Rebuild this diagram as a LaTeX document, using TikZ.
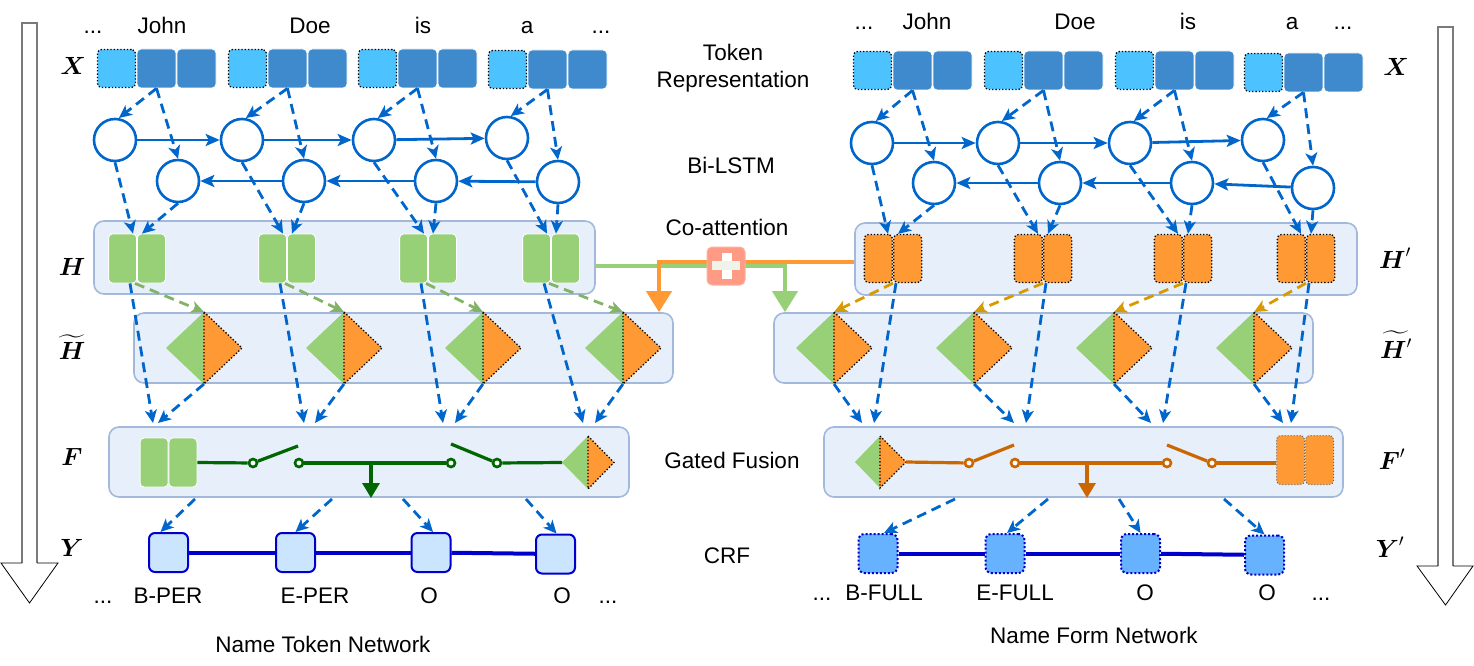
\documentclass[tikz,border=0pt]{standalone}
\usepackage{fontspec}
\setmainfont{Liberation Sans}
\usepackage{amsmath}
\usetikzlibrary{arrows.meta,calc}
\definecolor{tokL}{HTML}{4CC3FF}
\definecolor{tokD}{HTML}{3F8ACC}
\definecolor{lstm}{HTML}{0066CC}
\definecolor{panelF}{HTML}{E7EFFA}
\definecolor{panelD}{HTML}{A3B9DC}
\definecolor{gr}{HTML}{97D077}
\definecolor{grA}{HTML}{82B366}
\definecolor{orng}{HTML}{FF9933}
\definecolor{gold}{HTML}{D79B00}
\definecolor{wireG}{HTML}{006600}
\definecolor{wireO}{HTML}{CC6600}
\definecolor{crfB}{HTML}{0000CC}
\definecolor{crfL}{HTML}{CCE5FF}
\definecolor{crfR}{HTML}{66B2FF}
\definecolor{plusC}{HTML}{FF9B85}
\definecolor{plusBar}{HTML}{EEF5E8}
\definecolor{bigA}{HTML}{7A7A7A}
\tikzset{
  txt/.style={font=\fontsize{22.5}{27}\selectfont, inner sep=0pt, anchor=base},
  lbl/.style={font=\fontsize{26}{30}\selectfont, inner sep=0pt},
  tokl/.style={draw=black, dotted, line width=1.3pt, fill=tokL, rounded corners=4pt, minimum size=38pt, inner sep=0pt},
  tokd/.style={draw=white, line width=0.8pt, fill=tokD, rounded corners=4pt, minimum size=39pt, inner sep=0pt},
  cell/.style={circle, draw=lstm, line width=2.6pt, fill=white, minimum size=42pt, inner sep=0pt},
  flow/.style={draw=lstm, line width=2.8pt, -{Stealth[length=14pt,width=12pt,inset=3pt]}},
  dflow/.style={draw=lstm, line width=2.8pt, dash pattern=on 10pt off 6pt, -{Stealth[length=13pt,width=12pt,inset=3.5pt]}},
  dgreen/.style={dflow, draw=grA},
  dgold/.style={dflow, draw=gold},
  panel/.style={draw=panelD, line width=1.6pt, fill=panelF, rounded corners=10pt, inner sep=0pt},
  hg/.style={fill=gr, draw=white, line width=0.8pt, rounded corners=4pt, minimum width=28pt, minimum height=49pt, inner sep=0pt},
  ho/.style={fill=orng, draw=black, dotted, line width=1.3pt, rounded corners=4pt, minimum width=28pt, minimum height=48pt, inner sep=0pt},
  hof/.style={fill=orng, draw=black!60, dotted, line width=1pt, rounded corners=4pt, minimum width=28pt, minimum height=49pt, inner sep=0pt},
  wire/.style={line width=3.2pt},
  swc/.style={circle, fill=white, line width=2.6pt, minimum size=8pt, inner sep=0pt},
  crfl/.style={draw=crfB, line width=2pt, fill=crfL, rounded corners=6pt, minimum size=39pt, inner sep=0pt},
  crfr/.style={draw=crfB, dotted, line width=2pt, fill=crfR, rounded corners=6pt, minimum size=39pt, inner sep=0pt},
  crfline/.style={draw=crfB, line width=4pt},
  bigarr/.style={-{Triangle[length=21pt,width=25pt]}, line width=4pt},
}
\begin{document}
\begin{tikzpicture}[x=1pt,y=-1pt]
\useasboundingbox (0,0) rectangle (1474,666);

% ---------- big side arrows ----------
\draw[bigA, line width=2pt] (22,563) -- (22,23) -- (37,23) -- (37,563);
\draw[black, line width=0.8pt] (37,563) -- (58,563) -- (29.5,603) -- (1,563) -- (22,563);
\draw[bigA, line width=2pt] (1438,566) -- (1438,27) -- (1453,27) -- (1453,566);
\draw[black, line width=0.8pt] (1453,566) -- (1473,566) -- (1445.5,605) -- (1417,566) -- (1438,566);

% ---------- panels ----------
\node[panel, minimum width=501pt, minimum height=73pt] (HL) at (344.5,257.5) {};
\node[panel, minimum width=539pt, minimum height=70pt] (TL) at (403.5,348) {};
\node[panel, minimum width=520pt, minimum height=70pt] (FL) at (369,462) {};
\node[panel, minimum width=502pt, minimum height=72pt] (HR) at (1106,259) {};
\node[panel, minimum width=539pt, minimum height=70pt] (TR) at (1043.5,348) {};
\node[panel, minimum width=519pt, minimum height=70pt] (FR) at (1083.5,462) {};

% ---------- tokens ----------
\foreach \i/\s/\y in {1/97/68.5,2/228/68.5,3/358/68.5,4/488/69.5}{
  \node[tokl] (tLa\i) at (\s+19.5,\y) {};
  \node[tokd] (tLb\i) at (\s+59.5,\y) {};
  \node[tokd] (tLc\i) at (\s+99.5,\y) {};
}
\foreach \i/\s/\y in {1/853/70.5,2/984/70.5,3/1115/70.5,4/1244/72.5}{
  \node[tokl] (tRa\i) at (\s+19.5,\y) {};
  \node[tokd] (tRb\i) at (\s+59.5,\y) {};
  \node[tokd] (tRc\i) at (\s+99.5,\y) {};
}

% ---------- LSTM cells ----------
\foreach \i/\x/\y in {1/115/140,2/242/140,3/374/140,4/507/138} \node[cell] (cfL\i) at (\x,\y) {};
\foreach \i/\x/\y in {1/178/181,2/304/181,3/436/181,4/558/182} \node[cell] (cbL\i) at (\x,\y) {};
\foreach \i/\x/\y in {1/872/143,2/998/143,3/1130/143,4/1263/140} \node[cell] (cfR\i) at (\x,\y) {};
\foreach \i/\x/\y in {1/934/183,2/1060/183,3/1192/183,4/1313/188} \node[cell] (cbR\i) at (\x,\y) {};

\draw[flow] (cfL1) -- (cfL2);
\draw[flow] (cfL2) -- (cfL3);
\draw[flow] (cfL3) -- (cfL4);
\draw[flow] (cbL2) -- (cbL1);
\draw[flow] (cbL3) -- (cbL2);
\draw[flow] (cbL4) -- (cbL3);
\draw[flow] (cfR1) -- (cfR2);
\draw[flow] (cfR2) -- (cfR3);
\draw[flow] (cfR3) -- (cfR4);
\draw[flow] (cbR2) -- (cbR1);
\draw[flow] (cbR3) -- (cbR2);
\draw[flow] (cbR4) -- (cbR3);

% ---------- H pairs ----------
\foreach \i/\s in {1/137,2/287,3/428,4/551}{
  \node[hg, anchor=east] (hLa\i) at (\s,258.5) {};
  \node[hg, anchor=west] (hLb\i) at (\s,258.5) {};
}
\foreach \i/\s in {1/893,2/1043,3/1183,4/1306}{
  \node[ho, anchor=east] (hRa\i) at (\s,258.5) {};
  \node[ho, anchor=west] (hRb\i) at (\s,258.5) {};
}

% ---------- H tilde diamonds ----------
\foreach \i/\x in {1/204,2/344,3/483,4/623}{
  \fill[gr] (\x-38,348) -- (\x,312) -- (\x,384) -- cycle;
  \fill[orng] (\x,312) -- (\x+38,348) -- (\x,384) -- cycle;
  \draw[black, dotted, line width=1.3pt] (\x,312) -- (\x+38,348) -- (\x,384) -- cycle;
  \coordinate (dLt\i) at (\x,312);
  \coordinate (dLb\i) at (\x,384);
}
\foreach \i/\x in {1/834,2/974,3/1114,4/1254}{
  \fill[gr] (\x-38,348) -- (\x,312) -- (\x,384) -- cycle;
  \fill[orng] (\x,312) -- (\x+38,348) -- (\x,384) -- cycle;
  \draw[black, dotted, line width=1.3pt] (\x,312) -- (\x+38,348) -- (\x,384) -- cycle;
  \coordinate (dRt\i) at (\x,312);
  \coordinate (dRb\i) at (\x,384);
}

% ---------- arrow end points on F panels ----------
\foreach \i/\a/\b in {1/153/158,2/304/315,3/443/455,4/583/595}{
  \coordinate (pLe\i) at (\a,423);
  \coordinate (dLe\i) at (\b,423);
}
\foreach \i/\a/\b in {1/874/862,2/1026/1014,3/1163/1151,4/1291/1283}{
  \coordinate (pRe\i) at (\a,423);
  \coordinate (dRe\i) at (\b,423);
}

% ---------- dashed connectors ----------
\foreach \i in {1,2,3,4}{
  \draw[dflow] (tLb\i.south) -- (cfL\i.80);
  \draw[dflow] (tLb\i.south) -- (cbL\i.north);
  \draw[dflow] (tRb\i.south) -- (cfR\i.80);
  \draw[dflow] (tRb\i.south) -- (cbR\i.north);
  \draw[dflow] (cfL\i.south) -- ([xshift=-4pt]hLa\i.north east);
  \draw[dflow] (cbL\i.south) -- ([xshift=5pt]hLa\i.north east);
  \draw[dflow] (cfR\i.south) -- ([xshift=-5pt]hRa\i.north east);
  \draw[dflow] (cbR\i.south) -- ([xshift=5pt]hRa\i.north east);
  \draw[dgreen] ([xshift=-2pt]hLa\i.south east) -- (dLt\i);
  \draw[dgold] (hRa\i.south east) -- (dRt\i);
  \draw[dflow] ([xshift=-7pt]hLa\i.south east) -- (pLe\i);
  \draw[dflow] (dLb\i) -- (dLe\i);
  \draw[dflow] ([xshift=3pt]hRa\i.south east) -- (pRe\i);
  \draw[dflow] (dRb\i) -- (dRe\i);
}

% ---------- co-attention ----------
\coordinate (coG) at (785,266);
\coordinate (coO) at (659,262);
\draw[gr, bigarr] (HL.east |- coG) -- (coG) -- (coG |- TR.north);
\draw[orng, bigarr] (HR.west |- coO) -- (coO) -- (coO |- TL.north);
\node[fill=plusC, draw=plusC!80!white, line width=1pt, rounded corners=5pt, minimum size=38pt, inner sep=0pt] (plus) at (726,266) {};
\fill[plusBar] (712,261) rectangle (740,270);
\fill[white] (722,253) rectangle (732,261);
\fill[white] (722,270) rectangle (732,279);

% ---------- F (left) ----------
\node[hg, anchor=east] (fLg1) at (168.5,462.5) {};
\node[hg, anchor=west] (fLg2) at (168.5,462.5) {};
\fill[gr] (562,462.5) -- (588,436) -- (588,489) -- cycle;
\fill[orng] (588,436) -- (614,462.5) -- (588,489) -- cycle;
\draw[black, dotted, line width=1.3pt] (588,436) -- (614,462.5) -- (588,489) -- cycle;
\coordinate (dFL) at (562,462.5);
\node[swc, draw=wireG] (sL1) at (253,463) {};
\node[swc, draw=wireG] (sL2) at (299,463) {};
\node[swc, draw=wireG] (sL3) at (451,463) {};
\node[swc, draw=wireG] (sL4) at (497,463) {};
\coordinate (kL1) at (298,446);
\coordinate (kL2) at (451,444);
\coordinate (brL) at (371,463);
\coordinate (brLe) at (371,498);
\draw[wire, wireG] (fLg2.east) -- (sL1);
\draw[wire, wireG] (sL1) -- (kL1);
\draw[wire, wireG] (sL2) -- (sL3);
\draw[wire, wireG] (sL4) -- (kL2);
\draw[wire, wireG] (sL4) -- (dFL);
\draw[wire, wireG, -{Triangle[length=15pt,width=17pt]}] (brL) -- (brLe);

% ---------- F' (right) ----------
\fill[gr] (855,462) -- (880,436) -- (880,488) -- cycle;
\fill[orng] (880,436) -- (906,462) -- (880,488) -- cycle;
\draw[black, dotted, line width=1.3pt] (880,436) -- (906,462) -- (880,488) -- cycle;
\coordinate (dFR) at (906,462);
\node[hof, anchor=east] (fRo1) at (1305,460) {};
\node[hof, anchor=west] (fRo2) at (1305,460) {};
\node[swc, draw=wireO] (sR1) at (969,463) {};
\node[swc, draw=wireO] (sR2) at (1015,463) {};
\node[swc, draw=wireO] (sR3) at (1167,463) {};
\node[swc, draw=wireO] (sR4) at (1212,463) {};
\coordinate (kR1) at (1014,445);
\coordinate (kR2) at (1167,445);
\coordinate (brR) at (1087,463);
\coordinate (brRe) at (1087,498);
\draw[wire, wireO] (dFR) -- (sR1);
\draw[wire, wireO] (sR1) -- (kR1);
\draw[wire, wireO] (sR2) -- (sR3);
\draw[wire, wireO] (sR4) -- (kR2);
\draw[wire, wireO] (sR4) -- (fRo1.west |- sR4);
\draw[wire, wireO, -{Triangle[length=15pt,width=17pt]}] (brR) -- (brRe);

% ---------- CRF ----------
\foreach \i/\x/\y in {1/168.5/552.5,2/295.5/552.5,3/431/552.5,4/555.5/554}
  \node[crfl] (yL\i) at (\x,\y) {};
\foreach \i/\x/\y in {1/878/553.5,2/1005/553.5,3/1140.5/553.5,4/1264.5/555}
  \node[crfr] (yR\i) at (\x,\y) {};
\draw[crfline] (yL1) -- (yL2);
\draw[crfline] (yL2) -- (yL3);
\draw[crfline] (yL3) -- (yL4);
\draw[crfline] (yR1) -- (yR2);
\draw[crfline] (yR2) -- (yR3);
\draw[crfline] (yR3) -- (yR4);

\coordinate (sYL1) at (195,499);
\coordinate (sYL2) at (332,499);
\coordinate (sYL3) at (403,499);
\coordinate (sYL4) at (526,499);
\coordinate (sYR1) at (955,499);
\coordinate (sYR2) at (1048,499);
\coordinate (sYR3) at (1119,499);
\coordinate (sYR4) at (1224,499);
\draw[dflow] (sYL1) -- ([xshift=-8pt]yL1.north);
\draw[dflow] (sYL2) -- (yL2.north);
\draw[dflow] (sYL3) -- ([xshift=2pt]yL3.north);
\draw[dflow] (sYL4) -- ([xshift=1pt]yL4.north);
\draw[dflow] (sYR1) -- ([xshift=6pt]yR1.north);
\draw[dflow] (sYR2) -- ([xshift=2pt]yR2.north);
\draw[dflow] (sYR3) -- (yR3.north);
\draw[dflow] (sYR4) -- (yR4.north);

% ---------- texts ----------
\node[txt] (wL0) at (93,34) {...};
\node[txt] (wL1) at (162,34) {John};
\node[txt] (wL2) at (310,34) {Doe};
\node[txt] (wL3) at (423,34) {is};
\node[txt] (wL4) at (527,34) {a};
\node[txt] (wL5) at (601,34) {...};
\node[txt] (wR0) at (864,30) {...};
\node[txt] (wR1) at (927,30) {John};
\node[txt] (wR2) at (1075,30) {Doe};
\node[txt] (wR3) at (1188,30) {is};
\node[txt] (wR4) at (1292,30) {a};
\node[txt] (wR5) at (1343,30) {...};

\node[txt, anchor=north, align=center] (mTok) at (733,43.5) {Token\\Representation};
\node[txt] (mLstm) at (731,173) {Bi-LSTM};
\node[txt] (mCo) at (727,235) {Co-attention};
\node[txt] (mGF) at (732,468) {Gated Fusion};
\node[txt] (mCRF) at (727,563) {CRF};

\node[txt] (bL0) at (103,603) {...};
\node[txt] (bL1) at (168,603) {B-PER};
\node[txt] (bL2) at (315,603) {E-PER};
\node[txt] (bL3) at (429,603) {O};
\node[txt] (bL4) at (562,603) {O};
\node[txt] (bL5) at (608,603) {...};
\node[txt] (bR0) at (822,600) {...};
\node[txt] (bR1) at (884,600) {B-FULL};
\node[txt] (bR2) at (1015,600) {E-FULL};
\node[txt] (bR3) at (1145,600) {O};
\node[txt] (bR4) at (1267,600) {O};
\node[txt] (bR5) at (1321,600) {...};

\node[txt] (nL) at (323,652) {Name Token Network};
\node[txt] (nR) at (1094,643) {Name Form Network};

\node[lbl] (lX) at (73,66) {$\boldsymbol{X}$};
\node[lbl] (lH) at (72,267) {$\boldsymbol{H}$};
\node[lbl] (lHt) at (72,347) {$\widetilde{\boldsymbol{H}}$};
\node[lbl] (lF) at (72,457) {$\boldsymbol{F}$};
\node[lbl] (lY) at (72,548) {$\boldsymbol{Y}$};
\node[lbl] (rX) at (1396,67) {$\boldsymbol{X}$};
\node[lbl] (rH) at (1395,258) {$\boldsymbol{H}'$};
\node[lbl] (rHt) at (1396,345) {$\widetilde{\boldsymbol{H}'}$};
\node[lbl] (rF) at (1392,459) {$\boldsymbol{F}'$};
\node[lbl] (rY) at (1390,547) {$\boldsymbol{Y}'$};
\end{tikzpicture}
\end{document}
